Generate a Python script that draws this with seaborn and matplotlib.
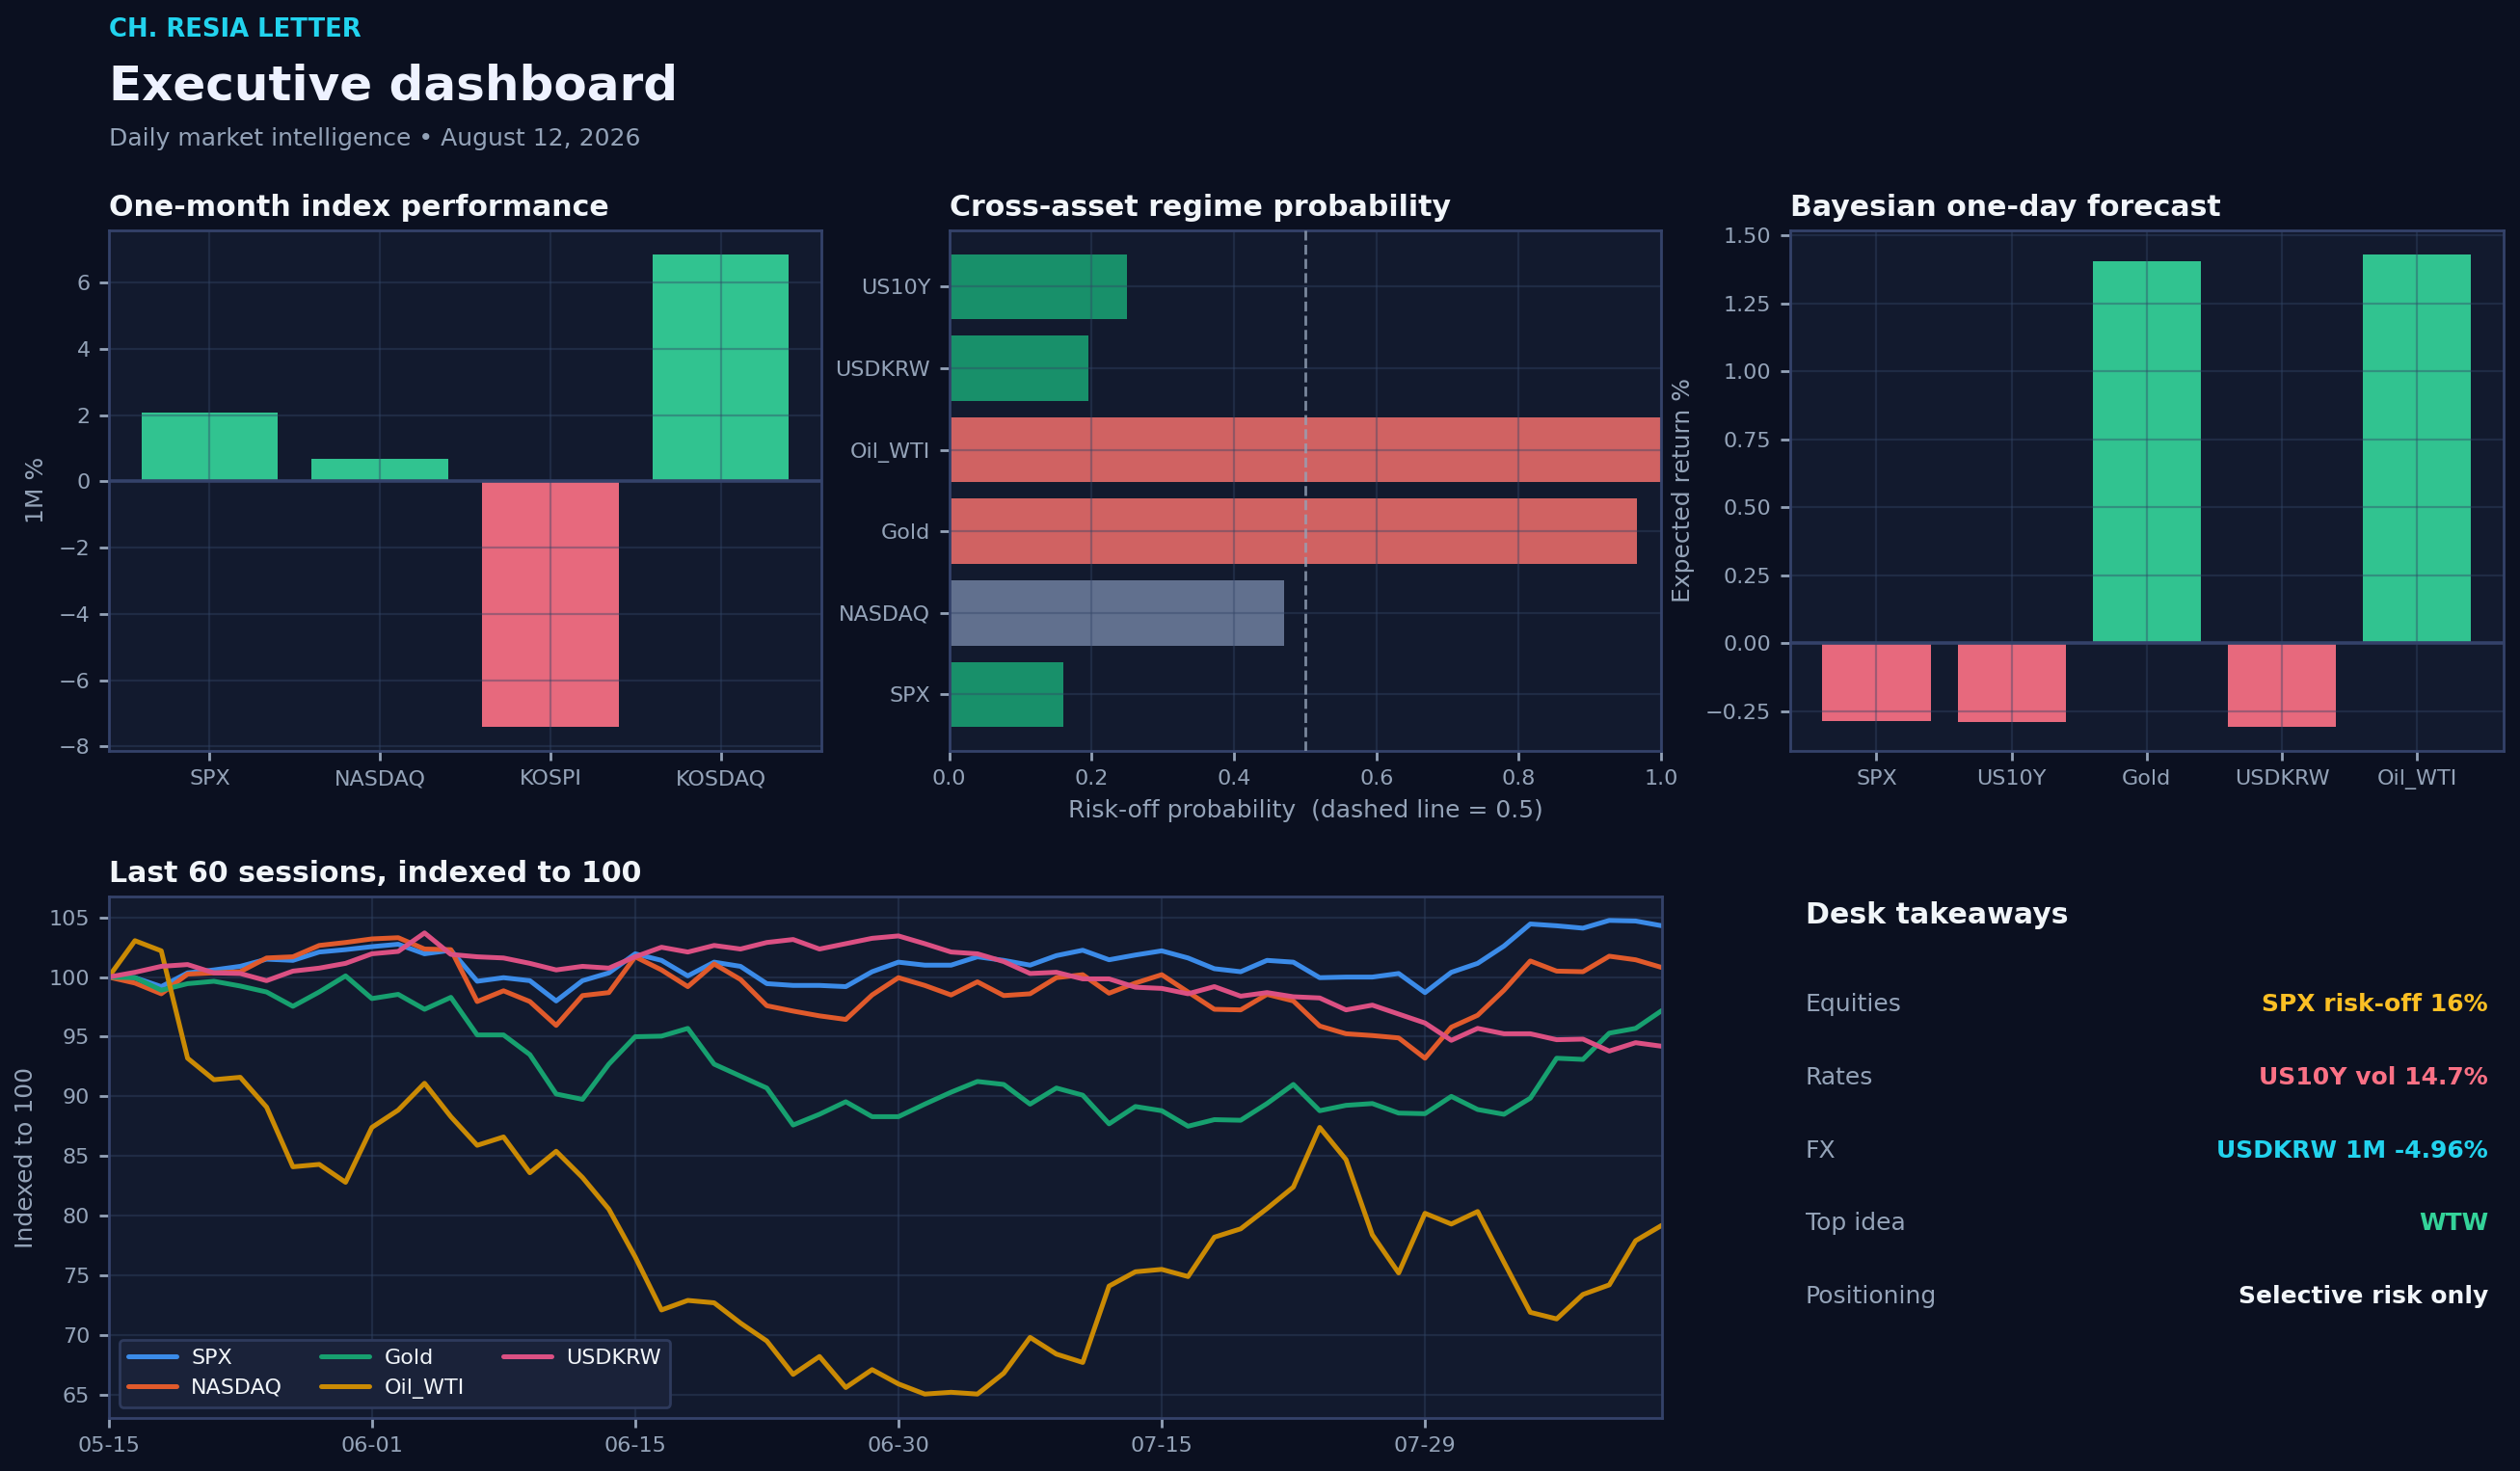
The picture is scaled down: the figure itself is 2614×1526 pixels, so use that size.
import matplotlib
matplotlib.use("Agg")
import matplotlib.pyplot as plt
import seaborn as sns
import pandas as pd

# ---------------- data ----------------
perf_labels = ["SPX", "NASDAQ", "KOSPI", "KOSDAQ"]
perf_values = [2.07, 0.67, -7.41, 6.86]

regime_assets = ["SPX", "NASDAQ", "Gold", "Oil_WTI", "USDKRW", "US10Y"]
regime_probs = [0.16, 0.47, 0.966, 1.0, 0.195, 0.25]

forecast_assets = ["SPX", "US10Y", "Gold", "USDKRW", "Oil_WTI"]
forecast_values = [-0.286, -0.289, 1.403, -0.308, 1.431]

session_tick_labels = ["05-15", "06-01", "06-15", "06-30", "07-15", "07-29"]

spx = [100.0, 99.95, 99.2, 100.35, 100.6, 100.9, 101.5, 101.4, 102.1, 102.3,
       102.55, 102.75, 101.95, 102.25, 99.65, 99.95, 99.7, 98.0, 99.7, 100.35,
       101.95, 101.4, 100.1, 101.25, 100.9, 99.45, 99.3, 99.3, 99.2, 100.45,
       101.25, 101.0, 101.0, 101.7, 101.4, 101.0, 101.8, 102.25, 101.45, 101.85,
       102.2, 101.6, 100.7, 100.45, 101.4, 101.25, 99.95, 100.0, 100.0, 100.3,
       98.7, 100.4, 101.15, 102.6, 104.45, 104.3, 104.1, 104.75, 104.7, 104.3]
nasdaq = [100.0, 99.5, 98.6, 100.25, 100.35, 100.45, 101.6, 101.7, 102.65, 102.9,
          103.2, 103.3, 102.35, 102.3, 97.95, 98.85, 97.95, 95.95, 98.45, 98.7,
          101.7, 100.6, 99.2, 101.1, 99.8, 97.6, 97.15, 96.75, 96.45, 98.5,
          99.95, 99.3, 98.5, 99.6, 98.45, 98.6, 99.95, 100.2, 98.65, 99.5,
          100.2, 98.75, 97.3, 97.25, 98.55, 98.0, 95.9, 95.25, 95.1, 94.9,
          93.2, 95.8, 96.8, 98.9, 101.35, 100.5, 100.45, 101.75, 101.45, 100.8]
gold = [100.0, 99.95, 98.9, 99.45, 99.65, 99.25, 98.75, 97.55, 98.75, 100.1,
        98.2, 98.55, 97.3, 98.3, 95.15, 95.15, 93.5, 90.2, 89.75, 92.7,
        95.0, 95.05, 95.7, 92.7, 91.7, 90.7, 87.6, 88.5, 89.55, 88.3,
        88.3, 89.35, 90.35, 91.25, 91.0, 89.35, 90.7, 90.1, 87.7, 89.15,
        88.8, 87.5, 88.05, 88.0, 89.4, 91.0, 88.8, 89.25, 89.4, 88.6,
        88.55, 90.0, 88.9, 88.5, 89.85, 93.2, 93.1, 95.3, 95.7, 97.2]
oil_wti = [100.0, 103.05, 102.2, 93.2, 91.4, 91.6, 89.1, 84.1, 84.3, 82.8,
           87.4, 88.85, 91.1, 88.3, 85.9, 86.6, 83.6, 85.4, 83.2, 80.55,
           76.55, 72.1, 72.9, 72.7, 71.0, 69.5, 66.7, 68.2, 65.6, 67.1,
           65.9, 65.05, 65.2, 65.05, 66.8, 69.8, 68.4, 67.7, 74.1, 75.3,
           75.5, 74.9, 78.2, 78.9, 80.6, 82.4, 87.4, 84.7, 78.4, 75.2,
           80.2, 79.3, 80.35, 76.1, 71.9, 71.35, 73.4, 74.2, 77.9, 79.2]
usdkrw = [100.0, 100.4, 100.9, 101.05, 100.35, 100.3, 99.7, 100.5, 100.75, 101.15,
          101.95, 102.15, 103.7, 101.9, 101.7, 101.6, 101.15, 100.6, 100.9, 100.75,
          101.7, 102.5, 102.1, 102.65, 102.35, 102.9, 103.15, 102.35, 102.8, 103.25,
          103.45, 102.8, 102.1, 101.95, 101.3, 100.3, 100.4, 99.85, 99.85, 99.15,
          99.05, 98.6, 99.2, 98.4, 98.7, 98.35, 98.25, 97.25, 97.65, 96.9,
          96.15, 94.7, 95.7, 95.25, 95.25, 94.75, 94.8, 93.8, 94.5, 94.2]

takeaway_labels = ["Equities", "Rates", "FX", "Top idea", "Positioning"]
takeaway_values = ["SPX risk-off 16%", "US10Y vol 14.7%", "USDKRW 1M -4.96%",
                   "WTW", "Selective risk only"]

# ---------------- style ----------------
BG = "#0b1020"
PANEL = "#121a2e"
SPINE = "#34426a"
MUTED = "#94a3b8"
TEXT = "#f1f5f9"
GRID = (0.20, 0.27, 0.40, 0.40)
GREEN = "#34d399"
ROSE = "#fb7185"
R_GREEN = "#18906a"
R_RED = "#d06262"
R_GRAY = "#61708e"
LINE_COLORS = {"SPX": "#3b8be8", "NASDAQ": "#e05a2b", "Gold": "#17a06f",
               "Oil_WTI": "#ca8a04", "USDKRW": "#db5083"}
TAKE_COLORS = ["#fbbf24", "#fb7185", "#22d3ee", "#34d399", "#f1f5f9"]

sns.set_theme(style="dark")
plt.rcParams.update({
    "font.family": ["DejaVu Sans"],
    "figure.facecolor": BG,
    "axes.facecolor": PANEL,
    "axes.edgecolor": SPINE,
    "axes.linewidth": 1.0,
    "axes.axisbelow": "line",
    "patch.edgecolor": "none",
    "grid.color": GRID,
    "grid.linewidth": 0.8,
    "xtick.color": MUTED,
    "ytick.color": MUTED,
    "xtick.labelcolor": MUTED,
    "ytick.labelcolor": MUTED,
    "xtick.labelsize": 8,
    "ytick.labelsize": 8,
    "xtick.bottom": True,
    "ytick.left": True,
    "xtick.major.size": 3.5,
    "ytick.major.size": 3.5,
    "xtick.major.width": 1.0,
    "ytick.major.width": 1.0,
    "axes.labelcolor": MUTED,
    "axes.labelsize": 9,
    "text.color": TEXT,
})

fig = plt.figure(figsize=(13.07, 7.63), dpi=200)

ax1 = fig.add_axes([0.0433, 0.4897, 0.2826, 0.3537])
ax2 = fig.add_axes([0.3767, 0.4897, 0.2825, 0.3537])
ax3 = fig.add_axes([0.7103, 0.4897, 0.2832, 0.3537])
ax4 = fig.add_axes([0.0431, 0.0362, 0.6164, 0.3542])


def style_axes(ax, title):
    ax.set_facecolor(PANEL)
    for s in ax.spines.values():
        s.set_color(SPINE)
        s.set_linewidth(1.0)
        s.set_visible(True)
    ax.grid(True, axis="both", color=GRID, linewidth=0.8)
    ax.tick_params(colors=MUTED, labelsize=8, length=3.5, width=1.0)
    ax.set_title(title, loc="left", pad=5.5, fontsize=10.8,
                 fontweight="bold", color=TEXT)


BAR_KW = dict(edgecolor="none", linewidth=0)

# ---- chart 1: one-month performance ----
perf_colors = [GREEN if v >= 0 else ROSE for v in perf_values]
sns.barplot(x=perf_labels, y=perf_values, hue=perf_labels, palette=perf_colors,
            legend=False, saturation=1, alpha=0.92, width=0.8, ax=ax1, **BAR_KW)
ax1.autoscale(enable=True, axis="x")
ax1.axhline(0, color=SPINE, linewidth=1.3, zorder=3)
ax1.set_ylabel("1M %")
ax1.set_xlabel("")
style_axes(ax1, "One-month index performance")

# ---- chart 2: regime probability ----
def regime_color(p):
    if p > 0.5:
        return R_RED
    if p > 0.4:
        return R_GRAY
    return R_GREEN

regime_pal = {a: regime_color(p) for a, p in zip(regime_assets, regime_probs)}
sns.barplot(x=regime_probs, y=regime_assets, hue=regime_assets,
            order=regime_assets[::-1], hue_order=regime_assets[::-1],
            palette=regime_pal, orient="h", legend=False, saturation=1,
            width=0.8, ax=ax2, **BAR_KW)
ax2.autoscale(enable=True, axis="y")
ax2.set_xlim(0, 1.0)
ax2.axvline(0.5, color=MUTED, linestyle="--", linewidth=1.0, alpha=0.8, zorder=3)
ax2.set_xlabel("Risk-off probability  (dashed line = 0.5)")
ax2.set_ylabel("")
style_axes(ax2, "Cross-asset regime probability")

# ---- chart 3: Bayesian forecast ----
fc_colors = [GREEN if v >= 0 else ROSE for v in forecast_values]
sns.barplot(x=forecast_assets, y=forecast_values, hue=forecast_assets,
            palette=fc_colors, legend=False, saturation=1, alpha=0.92,
            width=0.8, ax=ax3, **BAR_KW)
ax3.autoscale(enable=True, axis="x")
ax3.axhline(0, color=SPINE, linewidth=1.3, zorder=3)
ax3.set_ylabel("Expected return %")
ax3.set_xlabel("")
style_axes(ax3, "Bayesian one-day forecast")

# ---- chart 4: indexed lines ----
series = {"SPX": spx, "NASDAQ": nasdaq, "Gold": gold,
          "Oil_WTI": oil_wti, "USDKRW": usdkrw}
frames = []
for name, vals in series.items():
    frames.append(pd.DataFrame({"session": range(len(vals)), "value": vals,
                                "series": name}))
df = pd.concat(frames, ignore_index=True)
sns.lineplot(data=df, x="session", y="value", hue="series",
             hue_order=list(series.keys()), palette=LINE_COLORS,
             linewidth=1.8, ax=ax4)
ax4.margins(x=0)
ax4.autoscale(enable=True, axis="x", tight=True)
ax4.set_xticks(range(0, len(spx), 10))
ax4.set_xticklabels(session_tick_labels)
ax4.set_xlabel("")
ax4.set_ylabel("Indexed to 100")
style_axes(ax4, "Last 60 sessions, indexed to 100")
leg = ax4.legend(ncol=3, loc="lower left", fontsize=8, frameon=True,
                 facecolor="#1a2239", edgecolor="#2e3a5c", framealpha=1.0,
                 handlelength=2.25, handletextpad=0.7, columnspacing=1.8,
                 labelcolor=TEXT, title=None)
leg.get_frame().set_linewidth(1.0)

# ---- header ----
fig.text(0.0433, 0.9753, "CH. RESIA LETTER", fontsize=9.3, fontweight="bold",
         color="#22d3ee", va="baseline", ha="left")
fig.text(0.0433, 0.9325, "Executive dashboard", fontsize=18, fontweight="bold",
         color="#eef2ff", va="baseline", ha="left")
fig.text(0.0433, 0.9013, "Daily market intelligence \u2022 August 12, 2026",
         fontsize=9.0, color=MUTED, va="baseline", ha="left")

# ---- takeaways ----
fig.text(0.7165, 0.3722, "Desk takeaways", fontsize=10.8, fontweight="bold",
         color=TEXT, va="baseline", ha="left")
for i, (lab, val) in enumerate(zip(takeaway_labels, takeaway_values)):
    y = 0.3126 - i * 0.0497
    fig.text(0.7165, y, lab, fontsize=9, color=MUTED, va="baseline", ha="left")
    fig.text(0.9874, y, val, fontsize=9, fontweight="bold",
             color=TAKE_COLORS[i], va="baseline", ha="right")

fig.savefig("out.png", dpi=200, facecolor=BG)
